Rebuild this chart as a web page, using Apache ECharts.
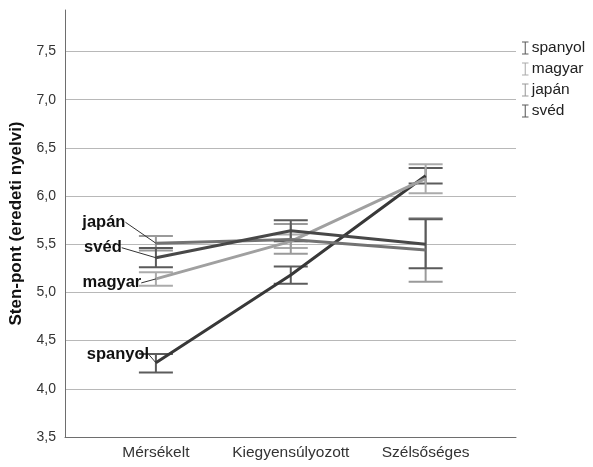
<!DOCTYPE html>
<html>
<head>
<meta charset="utf-8">
<script src="https://cdn.jsdelivr.net/npm/echarts@6/dist/echarts.min.js"></script>
<style>html,body{margin:0;padding:0;background:#fff}#c{width:593px;height:467px}</style>
</head>
<body>
<div id="c"></div>
<script>
const categories = ['Mérsékelt', 'Kiegyensúlyozott', 'Szélsőséges'];
const groups = ['spanyol', 'magyar', 'japán', 'svéd'];
const spanyolMean = [4.27, 5.18, 6.21];
const spanyolLow  = [4.17, 5.09, 6.13];
const spanyolHigh = [4.36, 5.27, 6.29];
const magyarMean = [5.14, 5.53, 6.18];
const magyarLow  = [5.07, 5.46, 6.03];
const magyarHigh = [5.21, 5.60, 6.33];
const japanMean = [5.51, 5.55, 5.44];
const japanLow  = [5.435, 5.40, 5.11];
const japanHigh = [5.585, 5.71, 5.77];
const svedMean = [5.36, 5.64, 5.50];
const svedLow  = [5.26, 5.53, 5.25];
const svedHigh = [5.46, 5.75, 5.76];
const yTicks = [3.5, 4.0, 4.5, 5.0, 5.5, 6.0, 6.5, 7.0, 7.5];

const means = {spanyol: spanyolMean, magyar: magyarMean, 'japán': japanMean, 'svéd': svedMean};
const lows = {spanyol: spanyolLow, magyar: magyarLow, 'japán': japanLow, 'svéd': svedLow};
const highs = {spanyol: spanyolHigh, magyar: magyarHigh, 'japán': japanHigh, 'svéd': svedHigh};

const lineColors = {spanyol: '#383838', magyar: '#a0a0a0', 'japán': '#737373', 'svéd': '#484848'};
const barColors = {spanyol: '#5c5c5c', magyar: '#ababab', 'japán': '#9a9a9a', 'svéd': '#5a5a5a'};
const labelShift = {spanyol: [-38, -8], magyar: [-44, 4], 'japán': [-52, -21], 'svéd': [-53, -10]};

const font = 'Liberation Sans, Arial, sans-serif';
const ibeam = 'path://M0,0 L10,0 L10,1.6 L5.8,1.6 L5.8,18.4 L10,18.4 L10,20 L0,20 L0,18.4 L4.2,18.4 L4.2,1.6 L0,1.6 Z';

const series = [];
groups.forEach(g => {
  series.push({
    name: g,
    type: 'custom',
    z: 2,
    itemStyle: {color: barColors[g]},
    data: categories.map((c, i) => [i, lows[g][i], highs[g][i]]),
    renderItem: function (params, api) {
      const lo = api.coord([api.value(0), api.value(1)]);
      const hi = api.coord([api.value(0), api.value(2)]);
      const hw = 17;
      const st = {stroke: barColors[g], lineWidth: 2};
      return {
        type: 'group',
        children: [
          {type: 'line', shape: {x1: lo[0], y1: lo[1], x2: hi[0], y2: hi[1]}, style: st},
          {type: 'line', shape: {x1: lo[0] - hw, y1: lo[1], x2: lo[0] + hw, y2: lo[1]}, style: st},
          {type: 'line', shape: {x1: hi[0] - hw, y1: hi[1], x2: hi[0] + hw, y2: hi[1]}, style: st}
        ]
      };
    }
  });
});
groups.forEach(g => {
  series.push({
    name: g,
    type: 'line',
    z: 3,
    symbol: 'circle',
    symbolSize: 0.1,
    showSymbol: true,
    silent: true,
    lineStyle: {color: lineColors[g], width: 3},
    itemStyle: {color: lineColors[g]},
    data: means[g].map((v, i) => ({value: [i, v], label: {show: i === 0}})),
    label: {
      position: 'inside',
      formatter: g,
      fontFamily: font,
      fontWeight: 'bold',
      fontSize: 16.5,
      color: '#111'
    },
    labelLine: {show: true, lineStyle: {color: '#333', width: 1}},
    labelLayout: function () {
      return {dx: labelShift[g][0], dy: labelShift[g][1]};
    }
  });
});

const option = {
  animation: false,
  backgroundColor: '#fff',
  grid: {left: 64, right: 77, top: 10, bottom: 30},
  legend: {
    data: groups,
    orient: 'vertical',
    left: 517,
    top: 35,
    itemGap: 5,
    itemWidth: 7,
    itemHeight: 13,
    icon: ibeam,
    textStyle: {fontFamily: font, fontSize: 15.5, color: '#222', padding: [0, 0, 0, -2]},
    selectedMode: false
  },
  xAxis: {
    type: 'value',
    min: -0.674,
    max: 2.67,
    splitLine: {show: false},
    axisLine: {show: true, onZero: false, lineStyle: {color: '#6e6e6e', width: 1}},
    axisTick: {show: false},
    axisLabel: {
      customValues: [0, 1, 2],
      formatter: v => categories[Math.round(v)],
      fontFamily: font,
      fontSize: 15.5,
      color: '#333',
      margin: 8
    }
  },
  yAxis: {
    type: 'value',
    min: 3.5,
    max: 7.93,
    interval: 0.5,
    name: 'Sten-pont (eredeti nyelvi)',
    nameLocation: 'middle',
    nameGap: 40,
    nameTextStyle: {fontFamily: font, fontSize: 17, fontWeight: 'bold', color: '#111'},
    axisLine: {show: true, onZero: false, lineStyle: {color: '#6e6e6e', width: 1}},
    axisTick: {show: false, customValues: yTicks},
    splitLine: {show: true, lineStyle: {color: '#b8b8b8', width: 1}},
    axisLabel: {
      customValues: yTicks,
      formatter: v => v.toFixed(1).replace('.', ','),
      fontFamily: font,
      fontSize: 14,
      color: '#333',
      margin: 9
    }
  },
  series: series
};

const chart = echarts.init(document.getElementById('c'), null, {renderer: 'canvas'});
chart.setOption(option);
</script>
</body>
</html>
